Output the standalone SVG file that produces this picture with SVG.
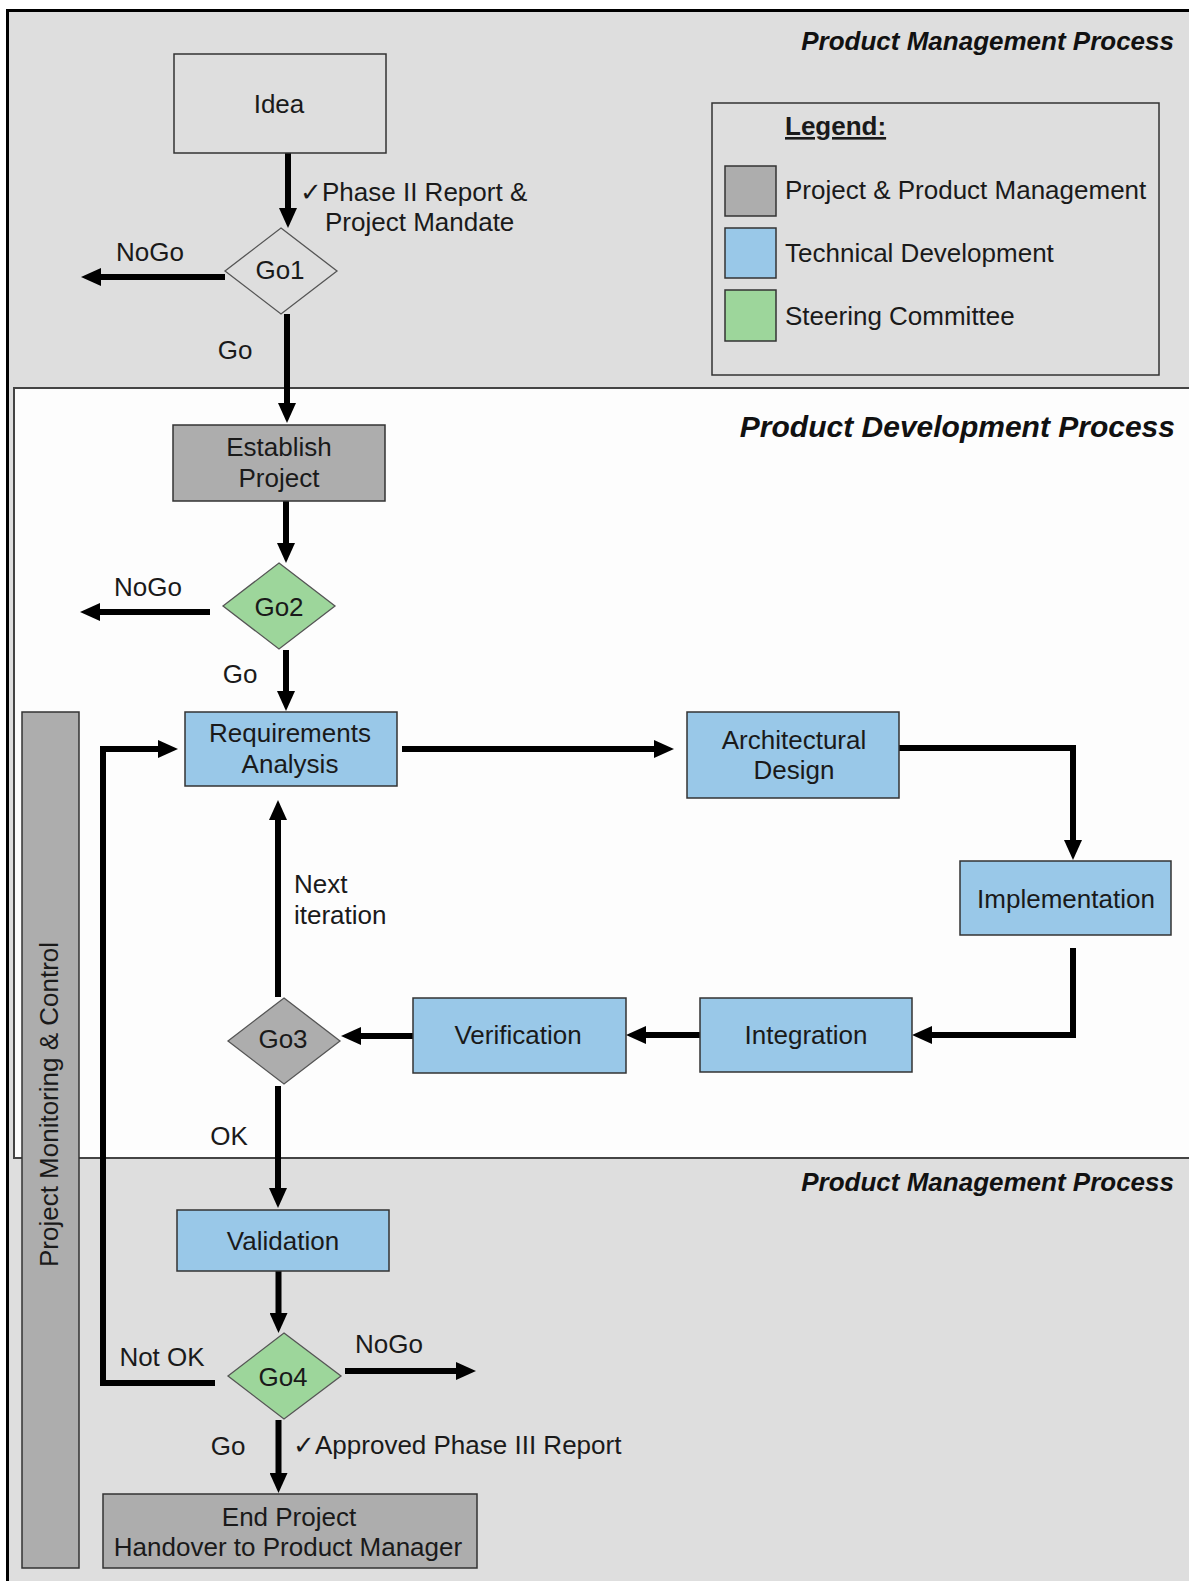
<svg xmlns="http://www.w3.org/2000/svg" width="1189" height="1581" viewBox="0 0 1189 1581">
  <style>
    text { font-family: "Liberation Sans", Arial, sans-serif; fill: #1a1a1a; }
    .lbl { font-size: 26px; }
    .mid { text-anchor: middle; }
    .title { font-size: 26px; font-weight: bold; font-style: italic; text-anchor: end; fill: #111; }
    .box { stroke: #333; stroke-width: 1.5; }
    .pm { fill: #adadad; }
    .td { fill: #99c8e8; }
    .sc { fill: #9dd69b; }
    .plain { fill: #dedede; }
    .dia { stroke: #555; stroke-width: 1.3; }
    .conn { fill: none; stroke: #000; stroke-width: 6; stroke-linejoin: miter; marker-end: url(#ah); }
  </style>
  <defs>
    <marker id="ah" markerUnits="userSpaceOnUse" markerWidth="20" markerHeight="18" viewBox="0 0 20 18" refX="2" refY="9" orient="auto">
      <path d="M0,0 L20,9 L0,18 z" fill="#000"/>
    </marker>
  </defs>

  <!-- canvas and swimlanes -->
  <rect x="0" y="0" width="1189" height="1581" fill="#fff"/>
  <rect x="8" y="11" width="1181" height="1570" fill="#dedede"/>
  <path d="M7.5,1581 V10.5 H1189" fill="none" stroke="#000" stroke-width="3"/>
  <g id="lane-development">
    <rect x="14" y="388" width="1180" height="770" fill="#fdfdfd" stroke="#444" stroke-width="2"/>
  </g>
  <text class="title" x="1174" y="50">Product Management Process</text>
  <text class="title" x="1175" y="437" style="font-size:30px">Product Development Process</text>
  <text class="title" x="1174" y="1191">Product Management Process</text>

  <!-- legend -->
  <g id="legend">
    <rect x="712" y="103" width="447" height="272" fill="none" stroke="#333" stroke-width="1.5"/>
    <text x="785" y="135" style="font-size:26px;font-weight:bold" text-decoration="underline">Legend:</text>
    <rect class="box pm" x="725" y="166" width="51" height="50"/>
    <rect class="box td" x="725" y="228" width="51" height="50"/>
    <rect class="box sc" x="725" y="290" width="51" height="51"/>
    <text class="lbl" x="785" y="199">Project &amp; Product Management</text>
    <text class="lbl" x="785" y="262">Technical Development</text>
    <text class="lbl" x="785" y="325">Steering Committee</text>
  </g>

  <!-- side bar -->
  <g id="monitoring">
    <rect class="box pm" x="22" y="712" width="57" height="856"/>
    <text class="lbl mid" transform="translate(57.5,1104.5) rotate(-90)" x="0" y="0">Project Monitoring &amp; Control</text>
  </g>

  <!-- connectors -->
  <g id="connectors">
    <path class="conn" d="M288,153 V210"/>
    <path class="conn" d="M225,277 H99"/>
    <path class="conn" d="M287,314 V405"/>
    <path class="conn" d="M286,501 V545"/>
    <path class="conn" d="M210,612 H98"/>
    <path class="conn" d="M286,650 V693"/>
    <path class="conn" d="M402,749 H656"/>
    <path class="conn" d="M899,748 H1073 V842"/>
    <path class="conn" d="M1073,948 V1035 H930"/>
    <path class="conn" d="M700,1035 H644"/>
    <path class="conn" d="M413,1036 H359"/>
    <path class="conn" d="M278,997 V818"/>
    <path class="conn" d="M278,1086 V1190"/>
    <path class="conn" d="M278.5,1271 V1315"/>
    <path class="conn" d="M345,1371 H458"/>
    <path class="conn" d="M215,1383 H103 V749 H160"/>
    <path class="conn" d="M278.5,1420 V1475"/>
  </g>

  <!-- connector labels -->
  <g id="connector-labels">
    <text class="lbl" x="300" y="201">✓Phase II Report &amp;</text>
    <text class="lbl" x="325" y="231">Project Mandate</text>
    <text class="lbl mid" x="150" y="261">NoGo</text>
    <text class="lbl mid" x="235" y="359">Go</text>
    <text class="lbl mid" x="148" y="596">NoGo</text>
    <text class="lbl mid" x="240" y="683">Go</text>
    <text class="lbl" x="294" y="893">Next</text>
    <text class="lbl" x="294" y="924">iteration</text>
    <text class="lbl mid" x="229" y="1145">OK</text>
    <text class="lbl mid" x="389" y="1353">NoGo</text>
    <text class="lbl mid" x="162" y="1366">Not OK</text>
    <text class="lbl mid" x="228" y="1455">Go</text>
    <text class="lbl" x="293" y="1454">✓Approved Phase III Report</text>
  </g>

  <!-- nodes -->
  <g id="idea">
    <rect class="box plain" x="174" y="54" width="212" height="99"/>
    <text class="lbl mid" x="279" y="113">Idea</text>
  </g>
  <g id="go1">
    <polygon class="dia plain" points="281,228 337,271 281,314 225,271"/>
    <text class="lbl mid" x="280" y="279">Go1</text>
  </g>
  <g id="establish-project">
    <rect class="box pm" x="173" y="425" width="212" height="76"/>
    <text class="lbl mid" x="279" y="456">Establish</text>
    <text class="lbl mid" x="279" y="487">Project</text>
  </g>
  <g id="go2">
    <polygon class="dia sc" points="279,563 335,606 279,649 223,606"/>
    <text class="lbl mid" x="279" y="616">Go2</text>
  </g>
  <g id="requirements-analysis">
    <rect class="box td" x="185" y="712" width="212" height="74"/>
    <text class="lbl mid" x="290" y="742">Requirements</text>
    <text class="lbl mid" x="290" y="773">Analysis</text>
  </g>
  <g id="architectural-design">
    <rect class="box td" x="687" y="712" width="212" height="86"/>
    <text class="lbl mid" x="794" y="749">Architectural</text>
    <text class="lbl mid" x="794" y="779">Design</text>
  </g>
  <g id="implementation">
    <rect class="box td" x="960" y="861" width="211" height="74"/>
    <text class="lbl mid" x="1066" y="908">Implementation</text>
  </g>
  <g id="integration">
    <rect class="box td" x="700" y="998" width="212" height="74"/>
    <text class="lbl mid" x="806" y="1044">Integration</text>
  </g>
  <g id="verification">
    <rect class="box td" x="413" y="998" width="213" height="75"/>
    <text class="lbl mid" x="518" y="1044">Verification</text>
  </g>
  <g id="go3">
    <polygon class="dia pm" points="284,998 340,1041 284,1084 228,1041"/>
    <text class="lbl mid" x="283" y="1048">Go3</text>
  </g>
  <g id="validation">
    <rect class="box td" x="177" y="1210" width="212" height="61"/>
    <text class="lbl mid" x="283" y="1250">Validation</text>
  </g>
  <g id="go4">
    <polygon class="dia sc" points="284,1333 341,1376 284,1419 228,1376"/>
    <text class="lbl mid" x="283" y="1386">Go4</text>
  </g>
  <g id="end-project">
    <rect class="box pm" x="103" y="1494" width="374" height="74"/>
    <text class="lbl mid" x="289" y="1526">End Project</text>
    <text class="lbl mid" x="288" y="1556">Handover to Product Manager</text>
  </g>
</svg>
